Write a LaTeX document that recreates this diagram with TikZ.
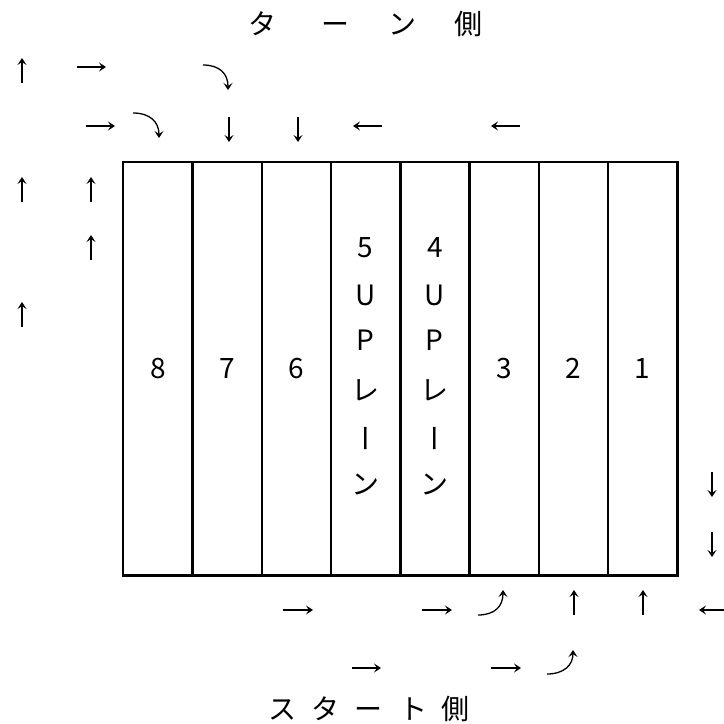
\documentclass[tikz,border=0pt]{standalone}
\usepackage{fontspec}
\setmainfont{Noto Sans CJK JP}
\usetikzlibrary{arrows.meta}
\begin{document}
\begin{tikzpicture}[x=1pt,y=-1pt,
  labbase/.style={inner sep=0pt,text height=0.88em,text depth=0.12em,font=\fontsize{28}{28}\selectfont},
  lab/.style={labbase,yshift=-6pt},
  arr/.style={line width=1.3pt,-{Stealth[length=7pt,width=9pt,inset=3pt]}},
  border/.style={line width=2.6pt}]
\useasboundingbox (0,0) rectangle (724,724);
% lanes
\foreach \i/\x in {8/123,7/192.25,6/261.5,5/330.75,4/400,3/469.25,2/538.5,1/607.75}{
  \node[draw=none,minimum width=69.25pt,minimum height=413pt,inner sep=0pt,anchor=north west] (lane\i) at (\x,162) {};
}
\draw[border] (lane8.north west) rectangle (lane1.south east);
\foreach \i in {8,7,6,5,4,3,2}{
  \draw[border] (lane\i.north east) -- (lane\i.south east);
}
\foreach \i in {8,7,6,3,2,1}{
  \node[lab] (n\i) at (lane\i.center) {\i};
}
% vertical texts
\foreach \l in {5,4}{
  \node[lab] (v\l a) at ([yshift=121pt]lane\l.center) {\l};
  \node[lab] (v\l b) at ([yshift=73pt]lane\l.center) {U};
  \node[lab] (v\l c) at ([yshift=28pt]lane\l.center) {P};
  \node[lab] (v\l d) at ([yshift=-22pt]lane\l.center) {レ};
  \node[labbase,rotate=90] (v\l e) at ([xshift=7pt,yshift=-70pt]lane\l.center) {ー};
  \node[lab] (v\l f) at ([yshift=-116pt]lane\l.center) {ン};
}
% titles
\node[lab] (t1) at (262,25) {タ};
\node[lab] (t2) at (335,25) {ー};
\node[lab] (t3) at (402,25) {ン};
\node[lab] (t4) at (468,25) {側};
\node[lab] (s1) at (282,710) {ス};
\node[lab] (s2) at (325,710) {タ};
\node[lab] (s3) at (368,710) {ー};
\node[lab] (s4) at (413,710) {ト};
\node[lab] (s5) at (455,710) {側};
% top arrows
\draw[arr] (22,83) -- (22,58);
\draw[arr] (77,67) -- (106,67);
\draw[arr] (203,65) .. controls (220,65) and (228,74) .. (228,90);
\draw[arr] (86,126) -- (115,126);
\draw[arr] (133,113) .. controls (150,113) and (159,122) .. (159,138);
\draw[arr] (229,117) -- (229,142);
\draw[arr] (298,117) -- (298,142);
\draw[arr] (382,126) -- (353,126);
\draw[arr] (520,126) -- (491,126);
% left arrows
\draw[arr] (22,202) -- (22,177);
\draw[arr] (91,202) -- (91,177);
\draw[arr] (91,260) -- (91,235);
\draw[arr] (22,327) -- (22,302);
% right arrows
\draw[arr] (712,472) -- (712,497);
\draw[arr] (712,532) -- (712,557);
% bottom arrows
\draw[arr] (283,610) -- (313,610);
\draw[arr] (422,610) -- (452,610);
\draw[arr] (478,615) .. controls (495,615) and (503,606) .. (503,590);
\draw[arr] (574,615) -- (574,590);
\draw[arr] (643,615) -- (643,590);
\draw[arr] (728,610) -- (699,610);
\draw[arr] (352,668) -- (381,668);
\draw[arr] (491,668) -- (521,668);
\draw[arr] (547,674) .. controls (564,674) and (573,665) .. (573,650);
\end{tikzpicture}
\end{document}
